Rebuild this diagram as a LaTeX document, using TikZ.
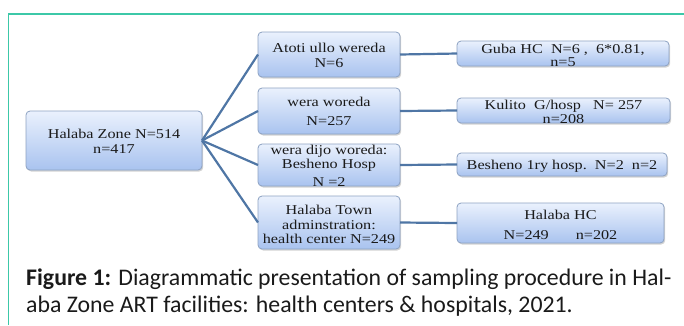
\documentclass[tikz,border=0pt]{standalone}
\usepackage{fontspec}
\usetikzlibrary{shadows}
\newfontfamily\boxfont[FakeStretch=1.2]{Liberation Serif}
\newfontfamily\capfont{Carlito}
\definecolor{frameG}{HTML}{3CC8A8}
\definecolor{lineB}{HTML}{4F76A5}
\definecolor{boxTop}{HTML}{EAF1FD}
\definecolor{boxBot}{HTML}{A9C3EF}
\definecolor{boxEdge}{HTML}{8DA2C2}
\definecolor{txt}{HTML}{1A1A1A}
\tikzset{
  sbox/.style={draw=boxEdge, line width=0.8pt, rounded corners=4pt, top color=boxTop, bottom color=boxBot,
    drop shadow={shadow xshift=1.2pt, shadow yshift=-1.5pt, opacity=0.35}, inner sep=0pt, outer sep=0pt},
  stext/.style={align=center, inner sep=0pt, text=txt, font=\boxfont\fontsize{13.5}{14.5}\selectfont},
  conn/.style={draw=lineB, line width=2.2pt},
  captext/.style={anchor=base west, inner sep=0pt, text=txt, font=\capfont\fontsize{23.8}{27}\selectfont}
}
\begin{document}
\begin{tikzpicture}[x=1pt,y=1pt]
\useasboundingbox (0,0) rectangle (684,-325);
% frame
\draw[frameG, line width=1.6pt] (8.6,-325) -- (8.6,-14) -- (684,-14);
% boxes
\node[sbox, minimum width=176pt, minimum height=59pt] (root) at (114,-140.5) {};
\node[sbox, minimum width=142pt, minimum height=45pt] (atoti) at (329,-54.5) {};
\node[sbox, minimum width=142pt, minimum height=46pt] (wera) at (329,-111) {};
\node[sbox, minimum width=142pt, minimum height=42pt] (dijo) at (329,-165) {};
\node[sbox, minimum width=142pt, minimum height=53pt] (town) at (329,-222.5) {};
\node[sbox, minimum width=212pt, minimum height=25pt] (guba) at (563,-53.5) {};
\node[sbox, minimum width=213pt, minimum height=25pt] (kulito) at (563.5,-110.5) {};
\node[sbox, minimum width=210pt, minimum height=23pt] (besheno) at (562,-164.5) {};
\node[sbox, minimum width=207pt, minimum height=40pt] (halabahc) at (560.5,-223) {};
% connectors
\draw[conn] (root.east) -- (atoti.west);
\draw[conn] (root.east) -- (wera.west);
\draw[conn] (root.east) -- (dijo.west);
\draw[conn] (root.east) -- (town.west);
\draw[conn] (atoti.east) -- (guba.west);
\draw[conn] (wera.east) -- (kulito.west);
\draw[conn] (dijo.east) -- (besheno.west);
\draw[conn] (town.east) -- (halabahc.west);
% texts
\node[stext, yshift=-1pt] (troot) at (root.center) {Halaba Zone N=514\\[0.5pt]n=417};
\node[stext, yshift=-1pt] (tatoti) at (atoti.center) {Atoti ullo wereda\\N=6};
\node[stext, yshift=-0.5pt] (twera) at (wera.center) {wera woreda\\[4.5pt]N=257};
\node[stext, yshift=-1pt] (tdijo) at (dijo.center) {wera dijo woreda:\\Besheno Hosp\\[3.5pt]N =2};
\node[stext, yshift=-2pt] (ttown) at (town.center) {Halaba Town\\[0.5pt]adminstration:\\health center N=249};
\node[stext, yshift=-2pt] (tguba) at (guba.center) {Guba HC\ \ N=6 ,\ \ 6*0.81,\\[-1.5pt]n=5};
\node[stext, yshift=-1.5pt] (tkulito) at (kulito.center) {Kulito\ \ G/hosp\ \ \ N= 257\\[-0.5pt]n=208};
\node[stext, yshift=-2pt] (tbesheno) at (besheno.center) {Besheno 1ry hosp.\ \ N=2\ \ n=2};
\node[stext, yshift=-2pt] (thalabahc) at (halabahc.center) {Halaba HC\\[5.5pt]N=249\qquad n=202};
% caption
\node[captext] (cap1) at (26,-285) {\textbf{Figure 1:} Diagrammatic presentation of sampling procedure in Hal-};
\node[captext] (cap2) at (26,-312) {aba Zone ART facilities: health centers \& hospitals, 2021.};
\end{tikzpicture}
\end{document}
